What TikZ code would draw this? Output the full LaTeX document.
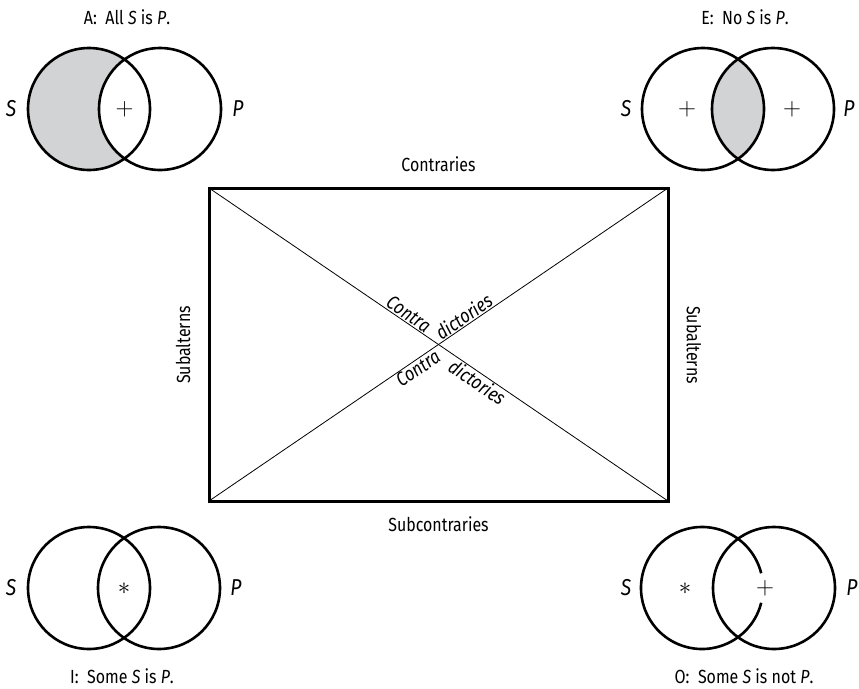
\documentclass[tikz,border=0pt]{standalone}
\usepackage{fontspec}
\setmainfont{Fira Sans}[FakeStretch=0.84]
\usetikzlibrary{positioning}
\definecolor{shadegray}{RGB}{209,211,212}
\tikzset{
    venn/.style={line width=2.6pt},
    txt/.style={font=\fontsize{19}{22}\selectfont, inner sep=1pt},
    symb/.style={font=\fontsize{25}{28}\selectfont, inner sep=0pt},
    starsymb/.style={font=\fontsize{24}{26}\selectfont, inner sep=0pt},
    setlbl/.style={font=\fontsize{23}{26}\selectfont\itshape, inner sep=1pt},
    diaglbl/.style={font=\fontsize{19.5}{22}\selectfont\itshape, sloped, inner sep=1pt},
}

\begin{document}
\begin{tikzpicture}[x=1pt,y=-1pt]
    \useasboundingbox (0,0) rectangle (859,688);
    \def\r{61}
    % square of opposition
    \coordinate (tl) at (209,188);
    \coordinate (tr) at (668,188);
    \coordinate (bl) at (209,501);
    \coordinate (br) at (668,501);
    \draw[line width=0.8pt] (tl) -- (br)
        node[diaglbl, pos=0.425, above] (contraA) {Contra}
        node[diaglbl, pos=0.596, below] (dictB) {dictories};
    \draw[line width=0.8pt] (bl) -- (tr)
        node[diaglbl, pos=0.445, below] (contraB) {Contra}
        node[diaglbl, pos=0.566, above] (dictA) {dictories};
    \draw[line width=3pt] (tl) rectangle (br);
    \node[txt] (contraries) at (438.5,164) {Contraries};
    \node[txt] (subcontraries) at (438.5,524) {Subcontraries};
    \node[txt, rotate=90] (subaltL) at (183,345) {Subalterns};
    \node[txt, rotate=-90] (subaltR) at (694,345) {Subalterns};

    % A: All S is P
    \coordinate (aS) at (89,109);
    \coordinate (aP) at (160,109);
    \begin{scope}
        \clip (aS) circle (\r);
        \fill[shadegray, even odd rule] (aS) circle (\r) (aP) circle (\r);
    \end{scope}
    \draw[venn] (aS) circle (\r) (aP) circle (\r);
    \node[symb] (aPlus) at (124.5,109) {$+$};
    \node[setlbl] (aSl) at (11,109) {S};
    \node[setlbl] (aPl) at (238,109) {P};
    \node[txt] (aTitle) at (127,17) {A:~ All \textit{S} is \textit{P}.};

    % E: No S is P
    \coordinate (eS) at (703,109);
    \coordinate (eP) at (773,109);
    \begin{scope}
        \clip (eS) circle (\r);
        \fill[shadegray] (eP) circle (\r);
    \end{scope}
    \draw[venn] (eS) circle (\r) (eP) circle (\r);
    \node[symb] (ePlusL) at (687,109) {$+$};
    \node[symb] (ePlusR) at (792,109) {$+$};
    \node[setlbl] (eSl) at (626,109) {S};
    \node[setlbl] (ePl) at (849,109) {P};
    \node[txt] (eTitle) at (745,17) {E:~ No \textit{S} is \textit{P}.};

    % I: Some S is P
    \coordinate (iS) at (89,588);
    \coordinate (iP) at (159,588);
    \draw[venn] (iS) circle (\r) (iP) circle (\r);
    \node[starsymb] (iStar) at (124,589) {$\ast$};
    \node[setlbl] (iSl) at (11,588) {S};
    \node[setlbl] (iPl) at (236,588) {P};
    \node[txt] (iTitle) at (122,676) {I:~ Some \textit{S} is \textit{P}.};

    % O: Some S is not P
    \coordinate (oS) at (702,588);
    \coordinate (oP) at (774,588);
    \draw[venn] (oS) ++(14:\r) arc[start angle=14, end angle=346, radius=\r];
    \draw[venn] (oP) circle (\r);
    \node[symb] (oPlus) at (765,588) {$+$};
    \node[starsymb] (oStar) at (685,589) {$\ast$};
    \node[setlbl] (oSl) at (626,588) {S};
    \node[setlbl] (oPl) at (852,588) {P};
    \node[txt] (oTitle) at (744,676) {O:~ Some \textit{S} is not \textit{P}.};
\end{tikzpicture}
\end{document}
